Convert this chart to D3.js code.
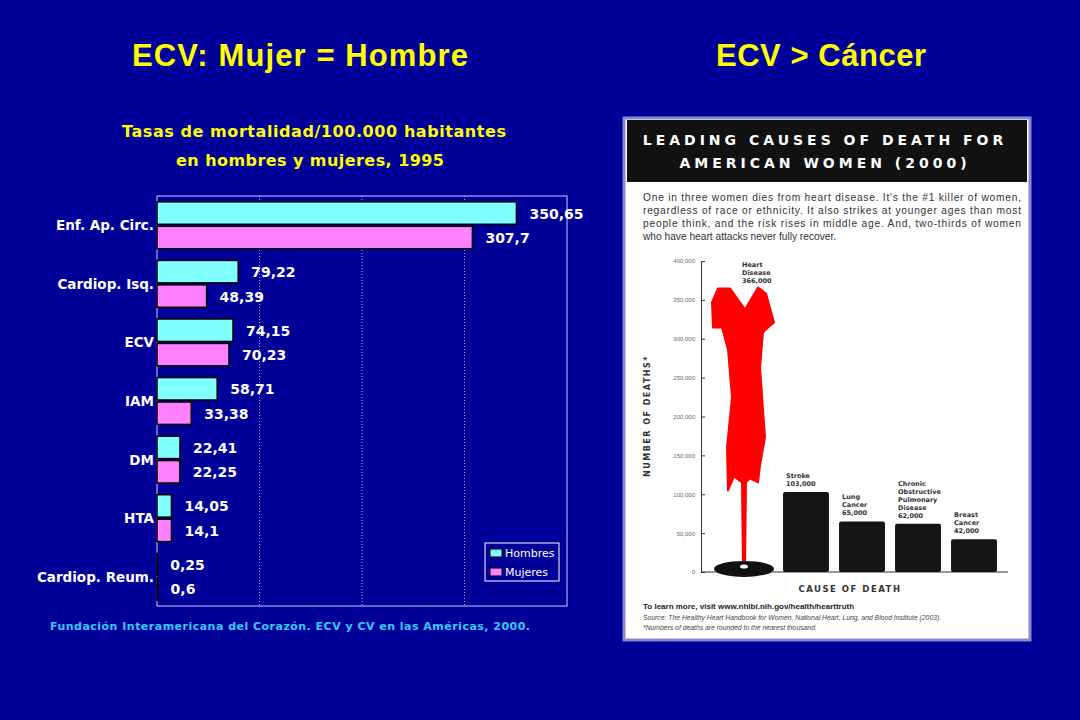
<!DOCTYPE html>
<html><head><meta charset="utf-8">
<script src="https://cdn.jsdelivr.net/npm/d3@7"></script>
<style>body{margin:0;background:#000099;}svg{display:block}</style>
</head><body><svg id="c" width="1080" height="720"></svg>
<script>
const categories=["Enf. Ap. Circ.","Cardiop. Isq.","ECV","IAM","DM","HTA","Cardiop. Reum."];
const hombres=[350.65,79.22,74.15,58.71,22.41,14.05,0.25];
const mujeres=[307.7,48.39,70.23,33.38,22.25,14.1,0.6];
const labelsH=["350,65","79,22","74,15","58,71","22,41","14,05","0,25"];
const labelsM=["307,7","48,39","70,23","33,38","22,25","14,1","0,6"];
const xTicks=[0,100,200,300,400];
const causes=["Heart Disease","Stroke","Lung Cancer","Chronic Obstructive Pulmonary Disease","Breast Cancer"];
const deaths=[366000,103000,65000,62000,42000];
const causeLabels=[["Heart","Disease","366,000"],["Stroke","103,000"],["Lung","Cancer","65,000"],["Chronic","Obstructive","Pulmonary","Disease","62,000"],["Breast","Cancer","42,000"]];
const yTicks=[0,50000,100000,150000,200000,250000,300000,350000,400000];

const svg=d3.select("#c");
const F="Verdana, 'DejaVu Sans', sans-serif";
svg.append("rect").attr("width",1080).attr("height",720).attr("fill","#000099");
svg.append("text").attr("x",300).attr("y",66).attr("text-anchor","middle").attr("fill","#ffff00").attr("font-family","Arial, 'Liberation Sans'").attr("font-weight","bold").attr("font-size",31).attr("textLength",336).text("ECV: Mujer = Hombre");
svg.append("text").attr("x",821).attr("y",66).attr("text-anchor","middle").attr("fill","#ffff00").attr("font-family","Arial, 'Liberation Sans'").attr("font-weight","bold").attr("font-size",31).attr("textLength",210).text("ECV > Cáncer");
svg.append("text").attr("x",314).attr("y",137).attr("text-anchor","middle").attr("fill","#ffff00").attr("font-family",F).attr("font-weight","bold").attr("font-size",16).attr("textLength",384).text("Tasas de mortalidad/100.000 habitantes");
svg.append("text").attr("x",310).attr("y",166).attr("text-anchor","middle").attr("fill","#ffff00").attr("font-family",F).attr("font-weight","bold").attr("font-size",16).attr("textLength",268).text("en hombres y mujeres, 1995");

const L=157,R=567,T=196,B=606;
const x=d3.scaleLinear().domain([0,400]).range([L,R]);
const y=d3.scaleBand().domain(categories).range([T,B]).paddingInner(0.2).paddingOuter(0.1);
const g=svg.append("g");
g.append("rect").attr("x",L).attr("y",T).attr("width",R-L).attr("height",B-T).attr("fill","none").attr("stroke","#ccccff").attr("stroke-width",1);
g.selectAll(".grid").data(xTicks.slice(1,-1)).join("line").attr("x1",d=>x(d)).attr("x2",d=>x(d)).attr("y1",T).attr("y2",B).attr("stroke","#aaaadd").attr("stroke-dasharray","1,2");
const bh=y.bandwidth()/2;
categories.forEach((c,i)=>{
  const y0=y(c);
  g.append("rect").attr("x",x(0)).attr("y",y0).attr("width",x(hombres[i])-x(0)).attr("height",bh-1).attr("fill","#80ffff").attr("stroke","#000").attr("stroke-width",1.5);
  g.append("rect").attr("x",x(0)).attr("y",y0+bh+1).attr("width",x(mujeres[i])-x(0)).attr("height",bh-1).attr("fill","#ff80ff").attr("stroke","#000").attr("stroke-width",1.5);
  g.append("text").attr("x",x(hombres[i])+13).attr("y",y0+bh/2+5).attr("fill","#fff").attr("font-family",F).attr("font-weight","bold").attr("font-size",14).text(labelsH[i]);
  g.append("text").attr("x",x(mujeres[i])+13).attr("y",y0+bh*1.5+6).attr("fill","#fff").attr("font-family",F).attr("font-weight","bold").attr("font-size",14).text(labelsM[i]);
  g.append("text").attr("x",L-3).attr("y",y0+bh+5).attr("text-anchor","end").attr("fill","#fff").attr("font-family",F).attr("font-weight","bold").attr("font-size",13.5).text(c);
});
const lg=g.append("g").attr("transform","translate(485,543)");
lg.append("rect").attr("width",74).attr("height",38).attr("fill","#000099").attr("stroke","#fff");
[["Hombres","#80ffff"],["Mujeres","#ff80ff"]].forEach((d,i)=>{
  lg.append("rect").attr("x",5).attr("y",6+i*19).attr("width",12).attr("height",8).attr("fill",d[1]).attr("stroke","#000");
  lg.append("text").attr("x",20).attr("y",14+i*19).attr("fill","#fff").attr("font-family",F).attr("font-size",11).text(d[0]);
});
svg.append("text").attr("x",50).attr("y",630).attr("fill","#33ccff").attr("font-family",F).attr("font-weight","bold").attr("font-size",11).attr("textLength",480).text("Fundación Interamericana  del Corazón. ECV y CV en las Américas,  2000.");

const P=svg.append("g");
P.append("rect").attr("x",624).attr("y",118).attr("width",406).attr("height",522).attr("fill","#fff").attr("stroke","#8888cc").attr("stroke-width",3);
P.append("rect").attr("x",627).attr("y",120).attr("width",400).attr("height",62).attr("fill","#111");
P.append("text").attr("x",825).attr("y",145).attr("text-anchor","middle").attr("fill","#fff").attr("font-family","'DejaVu Sans', sans-serif").attr("font-weight","bold").attr("font-size",14).attr("letter-spacing",4).text("LEADING CAUSES OF DEATH FOR");
P.append("text").attr("x",825).attr("y",168).attr("text-anchor","middle").attr("fill","#fff").attr("font-family","'DejaVu Sans', sans-serif").attr("font-weight","bold").attr("font-size",14).attr("letter-spacing",4).text("AMERICAN WOMEN (2000)");
["One in three women dies from heart disease.  It's the #1 killer of women,","regardless of race or ethnicity.  It also strikes at younger ages than most","people think, and the risk rises in middle age.  And, two-thirds of women","who have heart attacks never fully recover."].forEach((t,i)=>
  P.append("text").attr("x",643).attr("y",201+i*13).attr("fill","#333").attr("font-family","'Liberation Sans', Arial").attr("font-size",10.2).attr("textLength",i<3?378:null).text(t));
const yy=d3.scaleLinear().domain([0,400000]).range([572,261]);
const xx=d3.scaleBand().domain(causes).range([727,997]).paddingInner(0.18);
P.append("g").attr("transform","translate(701,0)").call(d3.axisLeft(yy).tickValues(yTicks).tickSize(-4).tickFormat(d3.format(","))).call(a=>{a.select(".domain").attr("stroke","#333");a.selectAll("text").attr("font-size",6).attr("fill","#666").attr("dx",-3);a.selectAll("line").attr("stroke","#333");});
P.append("line").attr("x1",701).attr("x2",1008).attr("y1",572).attr("y2",572).attr("stroke","#333");
P.append("text").attr("transform","translate(650,416) rotate(-90)").attr("text-anchor","middle").attr("fill","#333").attr("font-family","'DejaVu Sans'").attr("font-weight","bold").attr("font-size",8).attr("letter-spacing",1.5).text("NUMBER OF DEATHS*");
P.append("text").attr("x",850).attr("y",592).attr("text-anchor","middle").attr("fill","#333").attr("font-family","'DejaVu Sans'").attr("font-weight","bold").attr("font-size",8.5).attr("letter-spacing",1.5).text("CAUSE OF DEATH");
const dx=xx(causes[0])-15, dtop=yy(deaths[0]);
const hem=yy(105000);
const dress=[[dx+6,dtop+1],[dx+18,dtop+1],[dx+33,dtop+22],[dx+46,dtop],[dx+54,dtop+6],[dx+62,dtop+35],[dx+56,dtop+40],[dx+51,dtop+45],[dx+48,dtop+80],[dx+53,dtop+150],[dx+48,hem-25],[dx+46,hem-8],[dx+38,hem-12],[dx+34,hem-8],
 [dx+33,yy(5000)],[dx+31,yy(5000)],[dx+30,hem-8],[dx+22,hem-14],[dx+16,hem],[dx+15,dtop+160],[dx+20,dtop+110],[dx+16,dtop+62],[dx+10,dtop+40],[dx+1,dtop+40],[dx,dtop+15]];
P.append("path").attr("d",d3.line().curve(d3.curveLinearClosed)(dress)).attr("fill","#ff0000").attr("stroke","#ff0000").attr("stroke-linejoin","round").attr("stroke-width",2);
P.append("ellipse").attr("cx",dx+32).attr("cy",yy(4000)).attr("rx",30).attr("ry",8).attr("fill","#111");
P.append("ellipse").attr("cx",dx+32).attr("cy",yy(7000)).attr("rx",4).attr("ry",2).attr("fill","#fff");
P.selectAll(".cb").data(causes.slice(1)).join("rect").attr("x",d=>xx(d)).attr("y",(d,i)=>yy(deaths[i+1])).attr("width",xx.bandwidth()).attr("height",(d,i)=>572-yy(deaths[i+1])).attr("fill","#151515").attr("rx",2);
causeLabels.forEach((ls,i)=>{
  const lx=i==0?dx+30:xx(causes[i])+3;
  const base=yy(deaths[i])-6-(ls.length-1)*8;
  ls.forEach((t,j)=>P.append("text").attr("x",lx).attr("y",(i==0?yy(400000)+6:base)+j*8).attr("fill","#333").attr("font-family","'DejaVu Sans'").attr("font-weight","bold").attr("font-size",6.5).text(t));
});
P.append("text").attr("x",643).attr("y",609).attr("fill","#222").attr("font-family","'Liberation Sans'").attr("font-weight","bold").attr("font-size",8).text("To learn more, visit www.nhlbi.nih.gov/health/hearttruth");
P.append("text").attr("x",643).attr("y",620).attr("fill","#444").attr("font-family","'Liberation Sans'").attr("font-style","italic").attr("font-size",6.8).text("Source:  The Healthy Heart Handbook for Women, National Heart, Lung, and Blood Institute (2003).");
P.append("text").attr("x",643).attr("y",630).attr("fill","#444").attr("font-family","'Liberation Sans'").attr("font-style","italic").attr("font-size",6.8).text("*Numbers of deaths are rounded to the nearest thousand.");
</script></body></html>
